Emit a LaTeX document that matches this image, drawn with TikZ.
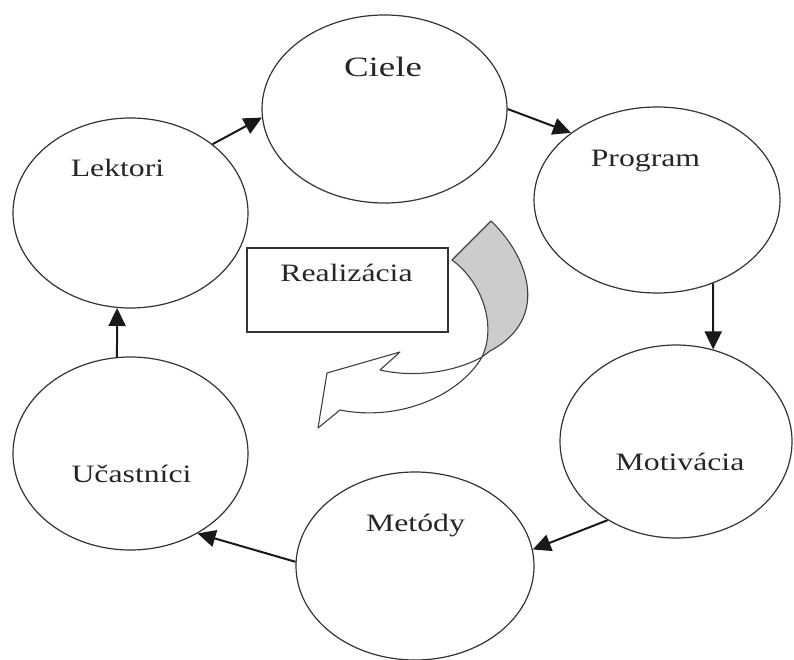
\documentclass[tikz,border=0pt]{standalone}
\usepackage{fontspec}
\setmainfont{Liberation Serif}
\usepackage{graphicx}
\usetikzlibrary{shapes.geometric,arrows.meta}
\newcommand{\wtext}[2][1.27]{\scalebox{#1}[1]{#2}}
\begin{document}
\begin{tikzpicture}[x=1pt,y=-1pt,
  oval/.style={draw=black!80, line width=1.2pt, ellipse, inner sep=0pt},
  lbl/.style={anchor=base, inner sep=0pt, text=black!85, font=\fontsize{25}{30}\selectfont},
  conn/.style={line width=2pt, draw=black!90, -{Triangle[length=18pt,width=17pt]}},
  boxs/.style={draw=black!80, line width=1.2pt, inner sep=0pt, minimum width=201pt, minimum height=84pt},
  band/.style={draw=black!75, line width=1.1pt, line join=round}
]
\useasboundingbox (0,0) rectangle (794,660);

% ellipses
\node[oval, minimum width=245pt, minimum height=188pt] (ciele) at (384.5,109) {};
\node[oval, minimum width=235pt, minimum height=190pt] (lektori) at (130.5,213) {};
\node[oval, minimum width=246pt, minimum height=186pt] (program) at (657,200) {};
\node[oval, minimum width=232pt, minimum height=193pt] (motivacia) at (676,441.5) {};
\node[oval, minimum width=238pt, minimum height=188pt] (metody) at (415,566) {};
\node[oval, minimum width=235pt, minimum height=193pt] (ucastnici) at (130.5,453.5) {};

% labels
\node[lbl, font=\fontsize{28}{33}\selectfont] (tciele) at (383,76.7) {\wtext[1.32]{Ciele}};
\node[lbl] (tlektori) at (117.5,176.7) {\wtext{Lektori}};
\node[lbl] (tprogram) at (645.5,167) {\wtext{Program}};
\node[lbl] (tmotivacia) at (680,470) {\wtext{Motivácia}};
\node[lbl] (tmetody) at (415.5,531) {\wtext{Metódy}};
\node[lbl] (tucastnici) at (131.5,482) {\wtext{Učastníci}};

% box
\node[boxs] (realiz) at (347.5,290) {};
\node[lbl] (trealiz) at (346.5,281.7) {\wtext{Realizácia}};

% connectors
\draw[conn] (lektori.40) -- (ciele.184);
\draw[conn] (ciele.0) -- (program.142);
\draw[conn] (program.-56) -- (motivacia.68);
\draw[conn] (motivacia.229) -- (metody.8);
\draw[conn] (metody.178) -- (ucastnici.-50);
\draw[conn] (ucastnici.98) -- (lektori.262);

% curved arrow: gray back part
\coordinate (ctop) at (491,221);
\coordinate (cin) at (452,260);
\coordinate (cx) at (482,357);
\coordinate (cout) at (490,351);
\filldraw[band, fill=gray!40]
  (ctop) -- (cin)
  .. controls (482,282) and (497,325) .. (cx)
  -- (cout)
  .. controls (552,318) and (527,255) .. (ctop)
  -- cycle;
% curved arrow: white front part with head
\filldraw[band, fill=white]
  (cx) .. controls (455,372) and (415,378) .. (380,370)
  -- (400,352) -- (327,373) -- (318,428) -- (340,410)
  .. controls (400,422) and (460,395) .. (cx)
  -- cycle;
\end{tikzpicture}
\end{document}
